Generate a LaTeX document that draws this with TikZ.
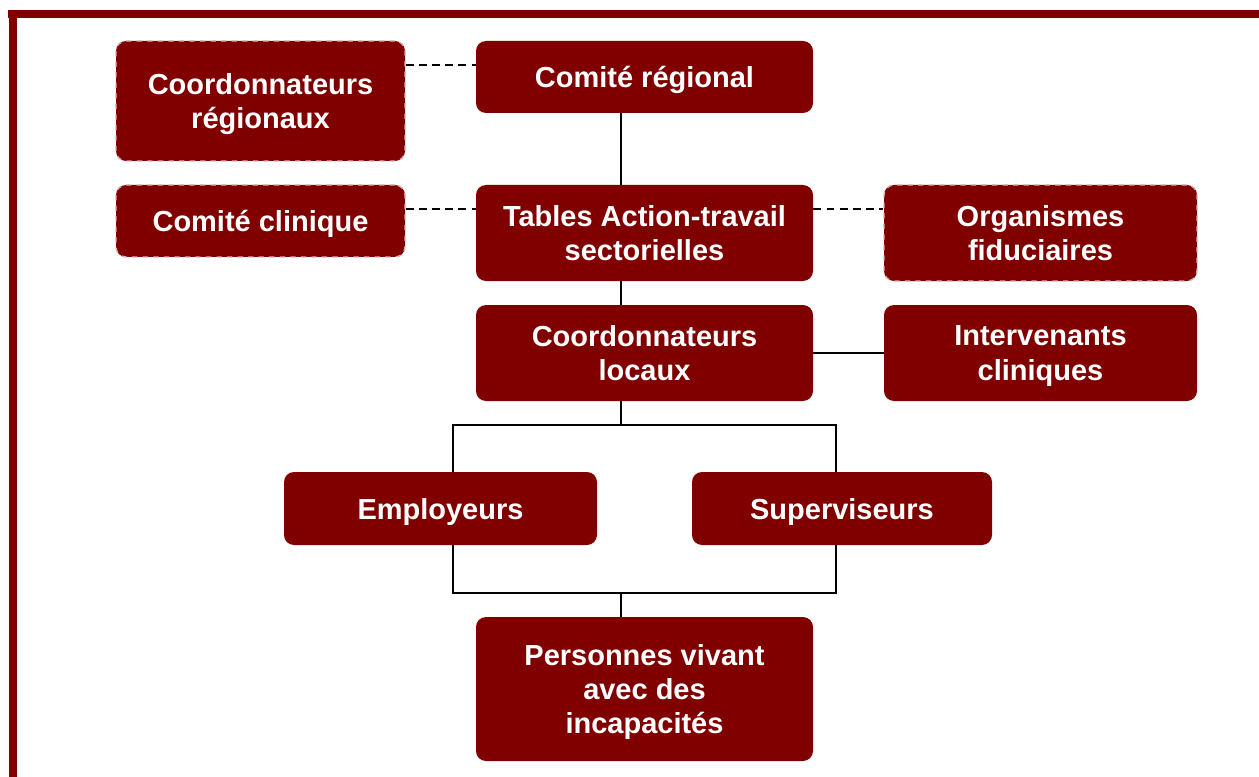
\documentclass[tikz,border=0pt]{standalone}
\usepackage{fontspec}
\setmainfont{Liberation Sans}
\definecolor{boxred}{RGB}{128,0,0}
\tikzset{
  box/.style={fill=boxred,text=white,rounded corners=0.2cm,align=center,
    font=\bfseries\fontsize{16.5}{19.5}\selectfont,inner sep=0pt,text depth=0pt},
  dbox/.style={box,draw=boxred!30,dashed,line width=0.8pt},
  sz/.style 2 args={minimum width=#1*0.02cm,minimum height=#2*0.02cm},
  link/.style={line width=1.1pt},
  dlink/.style={line width=0.9pt,dash pattern=on 4.5pt off 3pt},
}
\begin{document}
\begin{tikzpicture}[x=0.02cm,y=-0.02cm]
  \useasboundingbox (0,0) rectangle (1259,777);
  % frame
  \fill[boxred] (8,10) rectangle (1259,18);
  \fill[boxred] (9,10) rectangle (17,777);
  % boxes
  \node[dbox,sz={289}{120}] (creg) at (260.5,101) {Coordonnateurs\\régionaux};
  \node[box,sz={337}{72}] (cr) at (644.5,77) {Comité régional};
  \node[dbox,sz={289}{72}] (cc) at (260.5,221) {Comité clinique};
  \node[box,sz={337}{96}] (tab) at (644.5,233) {Tables Action-travail\\sectorielles};
  \node[dbox,sz={313}{96}] (org) at (1040.5,233) {Organismes\\fiduciaires};
  \node[box,sz={337}{96}] (cl) at (644.5,353) {Coordonnateurs\\locaux};
  \node[box,sz={313}{96}] (ic) at (1040.5,353) {Intervenants\\cliniques};
  \node[box,sz={313}{73}] (emp) at (440.5,508.5) {Employeurs};
  \node[box,sz={300}{73}] (sup) at (842,508.5) {Superviseurs};
  \node[box,sz={337}{144}] (pers) at (644.5,689) {Personnes vivant\\avec des\\incapacités};
  % helper points
  \coordinate (trunk) at (621,0);
  \coordinate (bl) at (453,0);
  \coordinate (br) at (836,0);
  \coordinate (split) at (621,425);
  \coordinate (join) at (621,593);
  % dashed links
  \draw[dlink] (creg.east |- 0,65) -- (cr.west |- 0,65);
  \draw[dlink] (cc.east |- 0,209) -- (tab.west |- 0,209);
  \draw[dlink] (tab.east |- 0,209) -- (org.west |- 0,209);
  % solid links
  \draw[link] (cr.south -| trunk) -- (tab.north -| trunk);
  \draw[link] (tab.south -| trunk) -- (cl.north -| trunk);
  \draw[link] (cl.east) -- (ic.west);
  \draw[link] (cl.south -| trunk) -- (split);
  \draw[link] (emp.north -| bl) |- (split) -| (sup.north -| br);
  \draw[link] (emp.south -| bl) |- (join) -| (sup.south -| br);
  \draw[link] (join) -- (pers.north -| trunk);
\end{tikzpicture}
\end{document}
